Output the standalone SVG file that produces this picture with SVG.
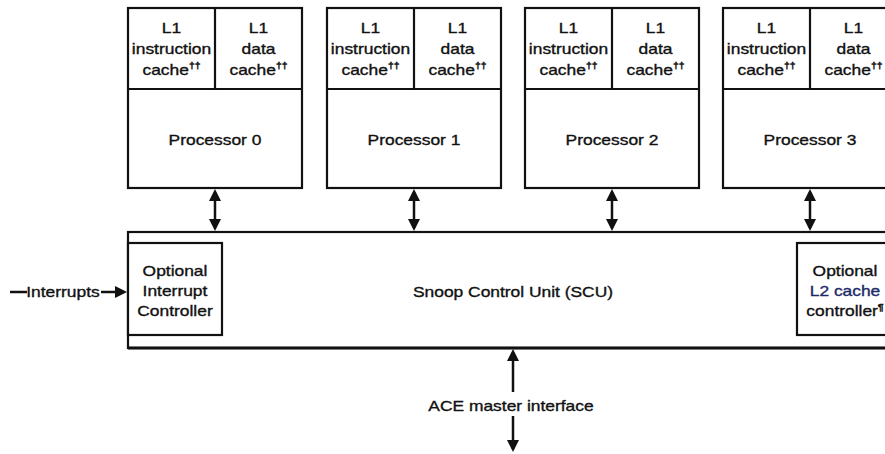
<svg xmlns="http://www.w3.org/2000/svg" width="885" height="454" viewBox="0 0 885 454">
<style>
.box{fill:#fff;stroke:#111;stroke-width:2.2}
.ln{fill:none;stroke:#111;stroke-width:2.2}
.t{font-family:"Liberation Sans",Arial,Helvetica,sans-serif;font-size:15px;fill:#111;stroke:#111;stroke-width:0.35;text-anchor:middle}
.sup{font-size:9px;font-weight:bold}
.arr{fill:none;stroke:#111;stroke-width:2.5}
</style>
<defs>
<marker id="ah" viewBox="0 0 12 12" refX="9" refY="6" markerWidth="12" markerHeight="12" markerUnits="userSpaceOnUse" orient="auto-start-reverse">
<path d="M0,0 L12,6 L0,12 z" fill="#111"/>
</marker>
</defs>
<rect width="885" height="454" fill="#fff"/>

<g id="proc0">
<rect class="box" x="128" y="8" width="174" height="180"/>
<line class="ln" x1="128" y1="89" x2="302" y2="89"/>
<line class="ln" x1="215" y1="8" x2="215" y2="89"/>
<text class="t" transform="translate(171.5,33) scale(1.16,1)"><tspan x="0">L1</tspan><tspan x="0" dy="21">instruction</tspan><tspan x="0" dy="21">cache<tspan class="sup" dy="-6">††</tspan></tspan></text>
<text class="t" transform="translate(258.5,33) scale(1.16,1)"><tspan x="0">L1</tspan><tspan x="0" dy="21">data</tspan><tspan x="0" dy="21">cache<tspan class="sup" dy="-6">††</tspan></tspan></text>
<text class="t" transform="translate(215,145) scale(1.16,1)">Processor 0</text>
</g>

<g id="proc1">
<rect class="box" x="327" y="8" width="174" height="180"/>
<line class="ln" x1="327" y1="89" x2="501" y2="89"/>
<line class="ln" x1="414" y1="8" x2="414" y2="89"/>
<text class="t" transform="translate(370.5,33) scale(1.16,1)"><tspan x="0">L1</tspan><tspan x="0" dy="21">instruction</tspan><tspan x="0" dy="21">cache<tspan class="sup" dy="-6">††</tspan></tspan></text>
<text class="t" transform="translate(457.5,33) scale(1.16,1)"><tspan x="0">L1</tspan><tspan x="0" dy="21">data</tspan><tspan x="0" dy="21">cache<tspan class="sup" dy="-6">††</tspan></tspan></text>
<text class="t" transform="translate(414,145) scale(1.16,1)">Processor 1</text>
</g>

<g id="proc2">
<rect class="box" x="525" y="8" width="174" height="180"/>
<line class="ln" x1="525" y1="89" x2="699" y2="89"/>
<line class="ln" x1="612" y1="8" x2="612" y2="89"/>
<text class="t" transform="translate(568.5,33) scale(1.16,1)"><tspan x="0">L1</tspan><tspan x="0" dy="21">instruction</tspan><tspan x="0" dy="21">cache<tspan class="sup" dy="-6">††</tspan></tspan></text>
<text class="t" transform="translate(655.5,33) scale(1.16,1)"><tspan x="0">L1</tspan><tspan x="0" dy="21">data</tspan><tspan x="0" dy="21">cache<tspan class="sup" dy="-6">††</tspan></tspan></text>
<text class="t" transform="translate(612,145) scale(1.16,1)">Processor 2</text>
</g>

<g id="proc3">
<rect class="box" x="723" y="8" width="174" height="180"/>
<line class="ln" x1="723" y1="89" x2="897" y2="89"/>
<line class="ln" x1="810" y1="8" x2="810" y2="89"/>
<text class="t" transform="translate(766.5,33) scale(1.16,1)"><tspan x="0">L1</tspan><tspan x="0" dy="21">instruction</tspan><tspan x="0" dy="21">cache<tspan class="sup" dy="-6">††</tspan></tspan></text>
<text class="t" transform="translate(853.5,33) scale(1.16,1)"><tspan x="0">L1</tspan><tspan x="0" dy="21">data</tspan><tspan x="0" dy="21">cache<tspan class="sup" dy="-6">††</tspan></tspan></text>
<text class="t" transform="translate(810,145) scale(1.16,1)">Processor 3</text>
</g>

<g id="scu">
<rect class="box" x="128" y="232" width="800" height="116"/>
<line x1="128" y1="348" x2="885" y2="348" stroke="#111" stroke-width="3"/>
<text class="t" transform="translate(513,297) scale(1.16,1)">Snoop Control Unit (SCU)</text>
</g>

<g id="intc">
<rect class="box" x="128" y="243" width="94" height="92"/>
<text class="t" transform="translate(175,276) scale(1.16,1)"><tspan x="0">Optional</tspan><tspan x="0" dy="20">Interrupt</tspan><tspan x="0" dy="20">Controller</tspan></text>
</g>

<g id="l2c">
<rect class="box" x="797" y="243" width="100" height="92"/>
<text class="t" transform="translate(845,276) scale(1.16,1)"><tspan x="0">Optional</tspan><tspan x="0" dy="20" fill="#1e2a66" stroke="#1e2a66">L2 cache</tspan><tspan x="0" dy="20">controller<tspan class="sup" dy="-6">¶</tspan></tspan></text>
</g>

<g id="connectors">
<line class="arr" x1="215" y1="192" x2="215" y2="228" marker-start="url(#ah)" marker-end="url(#ah)"/>
<line class="arr" x1="414" y1="192" x2="414" y2="228" marker-start="url(#ah)" marker-end="url(#ah)"/>
<line class="arr" x1="612" y1="192" x2="612" y2="228" marker-start="url(#ah)" marker-end="url(#ah)"/>
<line class="arr" x1="810" y1="192" x2="810" y2="228" marker-start="url(#ah)" marker-end="url(#ah)"/>
<line class="arr" x1="10" y1="292" x2="27" y2="292"/>
<line class="arr" x1="101" y1="292" x2="124" y2="292" marker-end="url(#ah)"/>
<line class="arr" x1="513" y1="392" x2="513" y2="352" marker-end="url(#ah)"/>
<line class="arr" x1="513" y1="416" x2="513" y2="449" marker-end="url(#ah)"/>
</g>
<text class="t" transform="translate(63,297) scale(1.16,1)">Interrupts</text>
<text class="t" transform="translate(511,411) scale(1.16,1)">ACE master interface</text>
</svg>
